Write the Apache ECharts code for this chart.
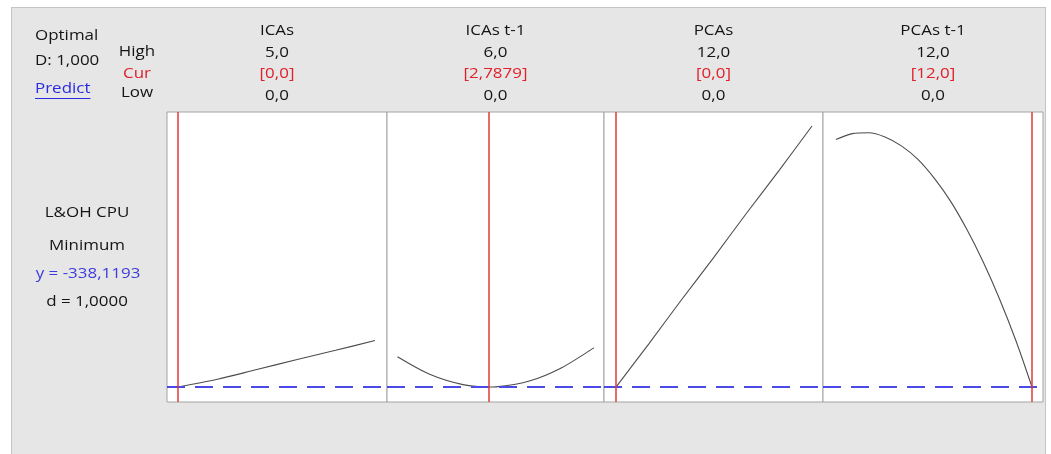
<!DOCTYPE html>
<html>
<head>
<meta charset="utf-8">
<script src="https://cdn.jsdelivr.net/npm/echarts@6/dist/echarts.min.js"></script>
<style>
  html, body { margin: 0; padding: 0; background: #ffffff; }
  #frame { position: absolute; left: 11px; top: 7px; width: 1033px; height: 460px;
           background: #e6e6e6; border: 1px solid #c4c4c4; }
  #chart { position: absolute; left: 0; top: 0; width: 1051px; height: 454px; }
</style>
</head>
<body>
<div id="frame"></div>
<div id="chart"></div>
<script>
// ---------------- data ----------------
const factors    = ['ICAs', 'ICAs t-1', 'PCAs', 'PCAs t-1'];
const highLabels = ['5,0', '6,0', '12,0', '12,0'];
const curLabels  = ['[0,0]', '[2,7879]', '[0,0]', '[12,0]'];
const lowLabels  = ['0,0', '0,0', '0,0', '0,0'];
const highValues = [5, 6, 12, 12];
const lowValues  = [0, 0, 0, 0];
const curValues  = [0, 2.7879, 0, 12];

const responseName = 'L&OH CPU';
const goalLabel    = 'Minimum';
const yLabel       = 'y = -338,1193';
const dLabel       = 'd = 1,0000';
const optimumY     = -338.1193;

const icasX    = [0, 1, 2, 3, 4, 5];
const icasY    = [-338.12, -306.2, -265.7, -225.1, -186.2, -145.7];
const icasT1X  = [0, 1, 2, 2.7879, 3, 4, 5, 6];
const icasT1Y  = [-212.7, -286.4, -328.2, -338.12, -337.3, -314.5, -259.1, -175.5];
const pcasX    = [0, 2, 4, 6, 8, 10, 12];
const pcasY    = [-338.12, -160.2, 21.9, 199.8, 381.9, 559.8, 741.9];
const pcasT1X  = [0, 1, 2, 3, 4, 5, 6, 7, 8, 9, 10, 11, 12];
const pcasT1Y  = [686.0, 710.5, 714.2, 696.8, 660.0, 605.4, 527.6, 432.4, 315.7, 181.2, 28.1, -143.6, -338.12];

const curveX = [icasX, icasT1X, pcasX, pcasT1X];
const curveY = [icasY, icasT1Y, pcasY, pcasT1Y];

// ---------------- layout ----------------
const boxes  = [[167, 387], [387, 604], [604, 823], [823, 1043]];   // panel box edges (px)
const inner  = [[178, 375], [397.5, 594], [616, 812], [836, 1032]]; // where low/high fall (px)
const plotTop = 112, plotH = 290;
const yMin = -400, yMax = 800;

const FONT = '"Open Sans", "Noto Sans", sans-serif';
const FS = 15;
const SX = 1.13;   // horizontal stretch to mimic the wide GDI text spacing
const FONTSTR = FS + 'px ' + FONT;

const grids = [], xAxes = [], yAxes = [], series = [], texts = [];

function label(t, x, y, color, align) {
  return { type: 'text', z: 100, x: x, y: y, scaleX: SX, scaleY: 1,
    style: { text: t, x: 0, y: 0, fill: color, font: FONTSTR,
             align: align || 'center', verticalAlign: 'middle',
             textAlign: align || 'center', textVerticalAlign: 'middle' } };
}

factors.forEach((name, i) => {
  const [L, R] = boxes[i];
  const [pl, ph] = inner[i];
  const u = (highValues[i] - lowValues[i]) / (ph - pl);
  grids.push({
    left: L, top: plotTop, width: R - L, height: plotH,
    show: true, backgroundColor: '#ffffff', borderColor: '#a3a3a3', borderWidth: 1,
    containLabel: false, outerBoundsMode: 'none'
  });
  xAxes.push({
    type: 'value', gridIndex: i,
    min: lowValues[i] - (pl - L) * u, max: highValues[i] + (R - ph) * u,
    show: false, splitLine: { show: false }
  });
  yAxes.push({
    type: 'value', gridIndex: i, min: yMin, max: yMax,
    show: false, splitLine: { show: false }
  });
  series.push({
    type: 'line', xAxisIndex: i, yAxisIndex: i,
    data: curveX[i].map((x, k) => [x, curveY[i][k]]),
    smooth: 0.3, showSymbol: false, symbol: 'none',
    lineStyle: { color: '#4d4d4d', width: 1.1 },
    z: 3,
    markLine: {
      silent: true, symbol: 'none', animation: false,
      label: { show: false },
      data: [
        { yAxis: optimumY, lineStyle: { color: '#4a4ae6', width: 2, type: [18, 10] } },
        { xAxis: curValues[i], lineStyle: { color: '#e03a3a', width: 1.5, type: 'solid' } }
      ]
    }
  });
  const cx = (L + R) / 2;
  texts.push(label(name, cx, 31, '#141414'));
  texts.push(label(highLabels[i], cx, 53, '#141414'));
  texts.push(label(curLabels[i], cx, 74, '#e0202a'));
  texts.push(label(lowLabels[i], cx, 96, '#141414'));
});

const measure = document.createElement('canvas').getContext('2d');
measure.font = FONTSTR;
const predictW = measure.measureText('Predict').width * SX;

texts.push(label('Optimal', 35, 36, '#141414', 'left'));
texts.push(label('D: 1,000', 35, 61, '#141414', 'left'));
texts.push(label('Predict', 35, 89, '#2a2ae0', 'left'));
texts.push({ type: 'line', z: 100, shape: { x1: 35, y1: 98.5, x2: 35 + predictW, y2: 98.5 },
             style: { stroke: '#2a2ae0', lineWidth: 1 } });
texts.push(label('High', 137, 52, '#141414'));
texts.push(label('Cur', 137, 74, '#e0202a'));
texts.push(label('Low', 137, 93, '#141414'));

texts.push(label(responseName, 87, 213, '#141414'));
texts.push(label(goalLabel, 87, 246, '#141414'));
texts.push(label(yLabel, 88, 274, '#3c3cdc'));
texts.push(label(dLabel, 87, 302, '#141414'));

const chart = echarts.init(document.getElementById('chart'), null, { renderer: 'canvas' });
chart.setOption({
  animation: false,
  backgroundColor: 'transparent',
  grid: grids, xAxis: xAxes, yAxis: yAxes, series: series,
  graphic: { elements: texts }
});
</script>
</body>
</html>
